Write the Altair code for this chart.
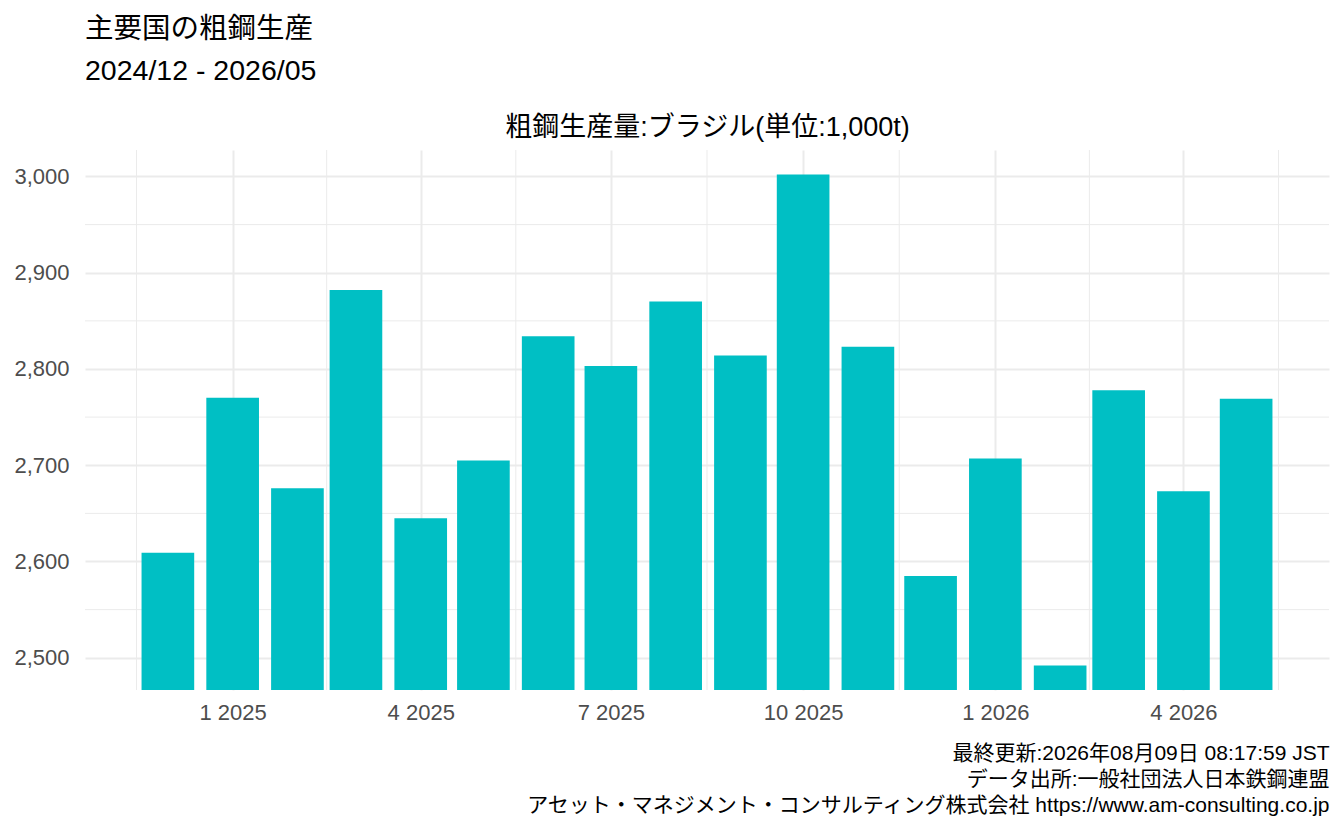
import altair as alt
import pandas as pd

# ---- data ----
months = ["2024-12", "2025-01", "2025-02", "2025-03", "2025-04", "2025-05",
          "2025-06", "2025-07", "2025-08", "2025-09", "2025-10", "2025-11",
          "2025-12", "2026-01", "2026-02", "2026-03", "2026-04", "2026-05"]
values = [2609, 2770, 2676, 2882, 2645, 2705,
          2834, 2803, 2870, 2814, 3002, 2823,
          2585, 2707, 2492, 2778, 2673, 2769]
major_x = ["2025-01-01", "2025-04-01", "2025-07-01", "2025-10-01", "2026-01-01", "2026-04-01"]
edge_x = ["2024-10-01", "2026-07-01"]
major_y = [2500, 2600, 2700, 2800, 2900, 3000]

title = "主要国の粗鋼生産"
subtitle = "2024/12 - 2026/05"
panel_title = "粗鋼生産量:ブラジル(単位:1,000t)"
caption = ["最終更新:2026年08月09日 08:17:59 JST",
           "データ出所:一般社団法人日本鉄鋼連盟",
           "アセット・マネジメント・コンサルティング株式会社 https://www.am-consulting.co.jp"]

FONT = "Liberation Sans, Noto Sans CJK JP, sans-serif"
TEAL = "#00BFC4"
GRID = "#EBEBEB"

# ---- derived tables ----
dates = pd.to_datetime([m + "-01" for m in months], utc=True)
half = pd.Timedelta(days=0.9 * 28 / 2)  # ggplot bar width: 0.9 * resolution
vmin, vmax = min(values), max(values)
lo = vmin - 0.05 * (vmax - vmin)
hi = vmax + 0.05 * (vmax - vmin)

fmt = "%Y-%m-%dT%H:%M:%SZ"
bars_df = pd.DataFrame({
    "x0": [(d - half).strftime(fmt) for d in dates],
    "x1": [(d + half).strftime(fmt) for d in dates],
    "value": values,
    "base": lo,
})

x_left = dates[0] - half
x_right = dates[-1] + half
span = x_right - x_left
dom_lo = x_left - 0.05 * span
dom_hi = x_right + 0.05 * span
x_domain = [int(dom_lo.value // 10**6), int(dom_hi.value // 10**6)]

all_major = pd.to_datetime([edge_x[0]] + major_x + [edge_x[1]], utc=True)
minor_x = [(all_major[i] + (all_major[i + 1] - all_major[i]) / 2).strftime(fmt)
           for i in range(len(all_major) - 1)]
minor_x_df = pd.DataFrame({"d": minor_x})
minor_y_df = pd.DataFrame({"v": [(major_y[i] + major_y[i + 1]) / 2 for i in range(len(major_y) - 1)]})

major_x_dt = [alt.DateTime(year=int(s[:4]), month=int(s[5:7]), date=1, utc=True) for s in major_x]

xscale = alt.Scale(type="utc", domain=x_domain, nice=False)
yscale = alt.Scale(domain=[lo, hi], nice=False, zero=False)

y_axis = alt.Axis(values=major_y, format=",d", labelFontSize=22,
                  labelColor="#4D4D4D", labelFont=FONT, labelPadding=16,
                  ticks=False, tickSize=0, domain=False,
                  grid=True, gridColor=GRID, gridWidth=2, title=None)

minor_x_layer = alt.Chart(minor_x_df).mark_rule(color=GRID, strokeWidth=1).encode(
    x=alt.X("d:T", scale=xscale,
            axis=alt.Axis(orient="top", labels=False, ticks=False, domain=False, grid=False,
                          title=panel_title, titleFontSize=27, titleFontWeight="normal",
                          titleColor="black", titleFont=FONT, titleY=-15,
                          titleBaseline="alphabetic"))
)

minor_y_layer = alt.Chart(minor_y_df).mark_rule(color=GRID, strokeWidth=1).encode(
    y=alt.Y("v:Q", scale=yscale, axis=y_axis)
)

bars = alt.Chart(bars_df).mark_bar(color=TEAL, clip=True).encode(
    x=alt.X("x0:T", scale=xscale,
            axis=alt.Axis(orient="bottom", values=major_x_dt,
                          labelExpr="utcFormat(datum.value, '%-m %Y')",
                          labelFontSize=22, labelColor="#4D4D4D", labelFont=FONT,
                          labelPadding=12, ticks=False, tickSize=0, domain=False,
                          grid=True, gridColor=GRID, gridWidth=2,
                          title=caption, titleFontSize=21, titleFontWeight="normal",
                          titleColor="black", titleFont=FONT, titleAlign="right",
                          titleAnchor="end", titleX=1244, titleY=69,
                          titleBaseline="alphabetic", titleLineHeight=26)),
    x2="x1:T",
    y=alt.Y("value:Q", scale=yscale, axis=y_axis),
    y2="base:Q",
)

chart = alt.layer(minor_x_layer, minor_y_layer, bars).resolve_axis(x="independent").properties(
    width=1244, height=540,
    title=alt.TitleParams(text=title, subtitle=subtitle, anchor="start", frame="group",
                          fontSize=28.5, subtitleFontSize=28.5, fontWeight="normal",
                          color="black", subtitleColor="black", font=FONT, subtitleFont=FONT,
                          subtitlePadding=13, offset=28),
    autosize=alt.AutoSizeParams(type="none"),
    padding={"left": 77, "top": 142, "right": 7, "bottom": 132},
    background="white",
).configure_view(stroke=None)

chart.save("out.html", embed_options={"renderer": "svg", "actions": False})
